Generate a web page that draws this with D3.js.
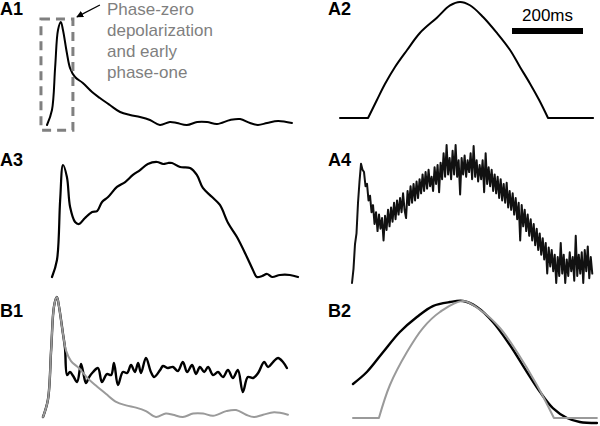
<!DOCTYPE html>
<html><head><meta charset="utf-8">
<script src="https://cdn.jsdelivr.net/npm/d3@7"></script>
<style>html,body{margin:0;padding:0;background:#fff;}svg{display:block;}</style>
</head><body>
<script>
// ---------- DATA (time in ms, amplitude normalised: 0 = rest, 1 = peak) ----------
// A1 : action potential (also grey trace of B1)
const a1Time = [0,14,23,31,39,45,56,65,79,101,127,149,177,206,234,262,290,318,346,366,394,423,451,479,516,544,572,594,620,651,690];
const a1Val  = [0,0.146,0.563,0.922,1,0.922,0.699,0.553,0.466,0.408,0.320,0.262,0.194,0.126,0.097,0.078,0.049,0,0.029,0.019,0,0.029,0.029,0.010,0.049,0.058,0.019,0,0.019,0.039,0.019];
// A2 : model waveform
const a2Time = [0,79,104,127,155,189,225,273,310,338,366,403,442,479,507,535,561,586,713];
const a2Val  = [0,0,0.155,0.295,0.44,0.586,0.733,0.865,0.97,1,0.972,0.871,0.733,0.586,0.44,0.298,0.155,0,0];
// A3 : recorded response
const a3Time = [0,14,23,31,42,51,65,76,93,113,127,141,158,183,206,228,248,270,296,313,327,338,361,389,408,425,451,473,496,521,549,566,577,592,606,620,642,670,693];
const a3Val  = [0,0.152,0.688,1,0.893,0.625,0.491,0.473,0.527,0.580,0.589,0.670,0.714,0.804,0.848,0.911,0.955,1.009,1.027,1.009,1.018,1.018,0.982,0.973,0.911,0.795,0.714,0.643,0.482,0.357,0.179,0.063,0,0.009,0.027,0,0.018,0.018,0];
// A4 : noisy recording, sampled every 4.23 ms (percent of spike peak)
const a4Step = 4.23;
const a4Val = [0,12,33,42,68,86,101,96,94,82,84,70,74,60,66,50,60,44,58,46,
  55,36,57,45,62,48,64,52,68,54,70,58,72,60,76,62,55,78,66,82,
  68,84,70,86,72,88,76,92,78,94,80,96,82,90,78,98,84,100,77,102,
  88,110,90,117,92,106,88,112,92,117,90,104,75,106,92,108,90,104,94,110,
  88,116,90,104,86,100,88,104,77,110,84,98,82,96,78,92,76,90,72,88,
  70,84,68,85,64,78,62,76,58,72,54,68,36,66,48,62,44,58,40,54,
  36,50,32,46,28,42,24,38,20,34,8,30,14,28,10,24,0,22,6,34,
  8,24,0,20,6,26,10,22,2,40,6,24,8,26,0,28,10,31,4,22,8];
// B1 : black = measured, grey = A1 waveform
const b1Time = [0,14,23,31,39,45,56,62,68,76,85,96,107,113,121,130,141,155,166,180,192,200,211,225,237,248,259,268,276,290,304,313,330,338,352,366,380,394,406,420,431,442,454,465,479,493,507,521,535,549,563,577,592,606,623,634,648,662,676,687];
const b1Val  = [0,0.146,0.563,0.922,1,0.922,0.699,0.575,0.35,0.375,0.342,0.292,0.442,0.375,0.283,0.333,0.375,0.408,0.292,0.358,0.35,0.45,0.267,0.375,0.367,0.433,0.375,0.45,0.367,0.492,0.375,0.333,0.392,0.425,0.408,0.417,0.383,0.458,0.375,0.433,0.358,0.417,0.375,0.417,0.35,0.375,0.333,0.392,0.325,0.392,0.208,0.333,0.325,0.367,0.458,0.417,0.458,0.492,0.458,0.408];
// B2 : black = fitted, grey = model
const b2ModelTime = [0,73,104,152,197,245,310,366,414,462,518,566,687];
const b2ModelVal  = [0,0,0.282,0.564,0.769,0.906,1,0.906,0.769,0.564,0.282,0,0];
const b2FitTime = [0,39,85,132,180,225,273,310,349,394,442,490,527,563,603,639,687];
const b2FitVal  = [0.291,0.393,0.564,0.735,0.863,0.957,0.991,1,0.949,0.821,0.624,0.393,0.222,0.085,0,-0.034,-0.043];

const panelLabels = ["A1","A2","A3","A4","B1","B2"];
const noteLines = ["Phase-zero","depolarization","and early","phase-one"];
const scaleBarMs = 200;
const scaleBarLabel = "200ms";

// ---------- DRAWING ----------
const W = 600, H = 426;
const svg = d3.select("body").append("svg").attr("width", W).attr("height", H);
const pxPerMs = 71 / 200;

function panel(x0, yBase, yPeak, vTop) {
  const x = d3.scaleLinear().domain([0, 1]).range([x0, x0 + pxPerMs]);
  const y = d3.scaleLinear().domain([0, vTop]).range([yBase, yPeak]);
  return {x, y};
}
function pathD(p, pts, curve) {
  return d3.line().x(d => p.x(d[0])).y(d => p.y(d[1])).curve(curve)(pts);
}
function stroke(d, color, width) {
  svg.append("path").attr("d", d)
    .attr("fill", "none").attr("stroke", color).attr("stroke-width", width)
    .attr("stroke-linejoin", "round").attr("stroke-linecap", "round");
}
function draw(p, times, vals, curve, color, width) {
  const pts = vals.map((v, i) => [times[i], v]);
  stroke(pathD(p, pts, curve), color, width);
}
// flat baseline at both ends, smooth curve in between
function drawPulse(p, times, vals, color, width) {
  const pts = vals.map((v, i) => [times[i], v]);
  const n = pts.length;
  const d = pathD(p, pts.slice(0, 2), d3.curveLinear)
    + pathD(p, pts.slice(1, n - 1), d3.curveCatmullRom.alpha(0.5))
    + pathD(p, pts.slice(n - 2), d3.curveLinear);
  stroke(d, color, width);
}

const pA1 = panel(47, 125, 22, 1);
const pA2 = panel(340, 118, 2, 1);
const pA3 = panel(52, 277, 165, 1);
const pA4 = panel(352, 283, 165, 100);
const pB1 = panel(43, 417, 297, 1);
const pB2 = panel(353, 418, 301, 1);

const smooth = d3.curveCatmullRom.alpha(0.5);

draw(pA1, a1Time, a1Val, smooth, "#000", 2);
drawPulse(pA2, a2Time, a2Val, "#000", 2);
draw(pA3, a3Time, a3Val, smooth, "#000", 2.2);
draw(pA4, a4Val.map((_, i) => i * a4Step), a4Val, d3.curveLinear, "#111", 2);
draw(pB1, b1Time, b1Val, smooth, "#000", 2.4);
draw(pB1, a1Time, a1Val, smooth, "#9a9a9a", 2);
draw(pB2, b2FitTime, b2FitVal, smooth, "#000", 2.4);
drawPulse(pB2, b2ModelTime, b2ModelVal, "#9a9a9a", 2);

// dashed box around phase zero in A1 (data units)
const bx0 = pA1.x(-17), bx1 = pA1.x(73), by0 = pA1.y(1.03), by1 = pA1.y(-0.05);
svg.append("rect").attr("x", bx0).attr("y", by0).attr("width", bx1 - bx0).attr("height", by1 - by0)
  .attr("fill", "none").attr("stroke", "#808080").attr("stroke-width", 3).attr("stroke-dasharray", "9,6");

// arrow
svg.append("defs").append("marker").attr("id", "ah").attr("viewBox", "0 0 10 10")
  .attr("refX", 9).attr("refY", 5).attr("markerWidth", 7).attr("markerHeight", 7).attr("orient", "auto")
  .attr("markerUnits", "userSpaceOnUse")
  .append("path").attr("d", "M0,0 L10,5 L0,10 Z").attr("fill", "#000");
svg.append("line").attr("x1", bx1 + 27).attr("y1", 5).attr("x2", bx1 + 4).attr("y2", by0 - 2)
  .attr("stroke", "#000").attr("stroke-width", 1.3).attr("marker-end", "url(#ah)");

// note text
const note = svg.append("text").attr("font-family", "Liberation Sans, Arial, sans-serif")
  .attr("font-size", 17).attr("fill", "#7f7f7f");
noteLines.forEach((t, i) => note.append("tspan").attr("x", 107).attr("y", 15 + i * 21).text(t));

// panel labels
const labelPos = [[0, 15], [328, 15], [0, 166], [328, 166], [0, 317], [328, 317]];
panelLabels.forEach((t, i) => svg.append("text").attr("x", labelPos[i][0]).attr("y", labelPos[i][1])
  .attr("font-family", "Liberation Sans, Arial, sans-serif").attr("font-weight", "bold")
  .attr("font-size", 18).attr("fill", "#000").text(t));

// scale bar (uses time scale)
const sbx0 = 512, sbw = pA2.x(scaleBarMs) - pA2.x(0);
svg.append("rect").attr("x", sbx0).attr("y", 28).attr("width", sbw).attr("height", 6).attr("fill", "#000");
svg.append("text").attr("x", sbx0 + sbw / 2).attr("y", 21).attr("text-anchor", "middle")
  .attr("font-family", "Liberation Sans, Arial, sans-serif").attr("font-size", 17).attr("fill", "#000")
  .text(scaleBarLabel);
</script>
</body></html>
